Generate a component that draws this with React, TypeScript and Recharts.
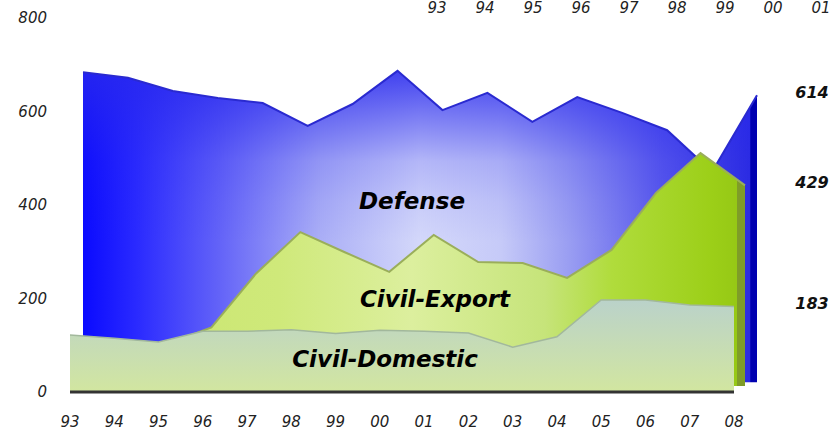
import { AreaChart, Area, XAxis, YAxis, ReferenceLine, LabelList } from 'recharts';

const years = ['93', '94', '95', '96', '97', '98', '99', '00', '01', '02', '03', '04', '05', '06', '07', '08'];
const defense = [663, 651, 623, 608, 597, 548, 595, 666, 582, 619, 557, 610, 576, 539, 450, 614];
const civilExport = [100, 95, 90, 125, 240, 329, 286, 244, 323, 265, 263, 231, 291, 413, 498, 429];
const civilDomestic = [122, 115, 107, 130, 130, 133, 125, 132, 130, 126, 96, 118, 197, 197, 186, 183];
const topYears = ['93', '94', '95', '96', '97', '98', '99', '00', '01'];
const yTicks = [0, 200, 400, 600, 800];

const data = years.map((year, i) => ({
  year,
  defense: defense[i],
  civilExport: civilExport[i],
  civilDomestic: civilDomestic[i],
}));

const FONT = '"DejaVu Sans", Verdana, sans-serif';
const tickStyle = { fill: '#222', fontSize: 15, fontStyle: 'italic', fontFamily: FONT };

const XTick = (props: any) => (
  <text x={props.x} y={427} textAnchor="middle" {...tickStyle}>
    {props.payload.value}
  </text>
);

const YTick = (props: any) => (
  <text x={47} y={props.y} dy="0.36em" textAnchor="end" {...tickStyle}>
    {props.payload.value}
  </text>
);

// value printed to the right of the last point of each series
const endLabel = (props: any) => {
  const { index, value } = props;
  const y = props.y ?? props.viewBox?.y;
  if (index !== years.length - 1) return null;
  return (
    <text x={812} y={y + 3} textAnchor="middle" fill="#111" fontSize={16} fontWeight="bold" fontStyle="italic" fontFamily={FONT}>
      {value}
    </text>
  );
};

export default function App() {
  return (
    <div style={{ position: 'absolute', left: 0, top: 0, width: 834, height: 432, background: '#fff' }}>
      <AreaChart width={834} height={432} data={data} margin={{ top: 18, right: 77, bottom: 0, left: 10 }}>
        <defs>
          <linearGradient id="defenseH" x1="0" y1="0" x2="1" y2="0">
            <stop offset="0" stopColor="#0a0aff" />
            <stop offset="0.08" stopColor="#2a2aff" />
            <stop offset="0.2" stopColor="#6262f8" />
            <stop offset="0.35" stopColor="#aaaef6" />
            <stop offset="0.5" stopColor="#d4d8fa" />
            <stop offset="0.62" stopColor="#c6caf8" />
            <stop offset="0.72" stopColor="#9a9ef2" />
            <stop offset="0.86" stopColor="#5858ec" />
            <stop offset="1" stopColor="#2828e0" />
          </linearGradient>
          <linearGradient id="defenseV" x1="0" y1="0" x2="0" y2="1">
            <stop offset="0" stopColor="#2828ee" stopOpacity={0.85} />
            <stop offset="0.19" stopColor="#2828ee" stopOpacity={0.42} />
            <stop offset="0.29" stopColor="#2828ee" stopOpacity={0.19} />
            <stop offset="0.42" stopColor="#2828ee" stopOpacity={0.07} />
            <stop offset="0.55" stopColor="#2828ee" stopOpacity={0} />
          </linearGradient>
          <pattern id="defenseFill" patternUnits="objectBoundingBox" patternContentUnits="objectBoundingBox" width="1" height="1">
            <rect width="1" height="1" fill="url(#defenseH)" />
            <rect width="1" height="1" fill="url(#defenseV)" />
            <rect x="0.99" width="0.01" height="1" fill="#0000b0" />
          </pattern>
          <linearGradient id="exportH" x1="0" y1="0" x2="1" y2="0">
            <stop offset="0" stopColor="#c8e46c" />
            <stop offset="0.3" stopColor="#cfe97a" />
            <stop offset="0.5" stopColor="#dcef9e" />
            <stop offset="0.7" stopColor="#c6e47a" />
            <stop offset="0.8" stopColor="#b0dc3c" />
            <stop offset="0.95" stopColor="#9ccf18" />
            <stop offset="1" stopColor="#94c614" />
          </linearGradient>
          <pattern id="exportFill" patternUnits="objectBoundingBox" patternContentUnits="objectBoundingBox" width="1" height="1">
            <rect width="1" height="1" fill="url(#exportH)" />
            <rect x="0.988" width="0.012" height="1" fill="#7f9c28" />
          </pattern>
          <linearGradient id="domesticFill" x1="0" y1="0" x2="0" y2="1">
            <stop offset="0" stopColor="#bad2ca" />
            <stop offset="1" stopColor="#d2e6a0" />
          </linearGradient>
        </defs>

        <XAxis
          xAxisId="front"
          dataKey="year"
          height={40}
          padding={{ left: 0, right: 23 }}
          interval={0}
          axisLine={false}
          tickLine={false}
          tick={<XTick />}
        />
        <XAxis xAxisId="mid" dataKey="year" hide padding={{ left: 8, right: 12 }} />
        <XAxis xAxisId="back" dataKey="year" hide padding={{ left: 13, right: 0 }} />
        <YAxis
          yAxisId="front"
          domain={[0, 800]}
          ticks={yTicks}
          width={60}
          axisLine={false}
          tickLine={false}
          tick={<YTick />}
        />
        <YAxis yAxisId="mid" hide domain={[-13, 787]} allowDataOverflow />
        <YAxis yAxisId="back" hide domain={[-21, 779]} allowDataOverflow />

        <Area
          xAxisId="back"
          yAxisId="back"
          type="linear"
          dataKey="defense"
          fill="url(#defenseFill)"
          fillOpacity={1}
          stroke="#2a2ad0"
          strokeWidth={2}
          isAnimationActive={false}
        >
          <LabelList dataKey="defense" content={endLabel} />
        </Area>
        <Area
          xAxisId="mid"
          yAxisId="mid"
          type="linear"
          dataKey="civilExport"
          fill="url(#exportFill)"
          fillOpacity={1}
          stroke="#9aae5a"
          strokeWidth={2}
          isAnimationActive={false}
        >
          <LabelList dataKey="civilExport" content={endLabel} />
        </Area>
        <Area
          xAxisId="front"
          yAxisId="front"
          type="linear"
          dataKey="civilDomestic"
          fill="url(#domesticFill)"
          fillOpacity={1}
          stroke="#a2b89c"
          strokeWidth={1.5}
          isAnimationActive={false}
        >
          <LabelList dataKey="civilDomestic" content={endLabel} />
        </Area>
        <ReferenceLine
          xAxisId="front"
          yAxisId="front"
          segment={[{ x: '93', y: 0 }, { x: '08', y: 0 }]}
          stroke="#333"
          strokeWidth={3}
        />
      </AreaChart>

      <svg width={834} height={432} style={{ position: 'absolute', left: 0, top: 0, pointerEvents: 'none' }}>
        {topYears.map((y, i) => (
          <text key={y} x={437 + i * 48} y={13} textAnchor="middle" {...tickStyle}>
            {y}
          </text>
        ))}
        <g fill="#000" fontSize={23} fontWeight="bold" fontStyle="italic" fontFamily={FONT} textAnchor="middle">
          <text x={412} y={209}>Defense</text>
          <text x={435} y={307}>Civil-Export</text>
          <text x={385} y={367}>Civil-Domestic</text>
        </g>
      </svg>
    </div>
  );
}
